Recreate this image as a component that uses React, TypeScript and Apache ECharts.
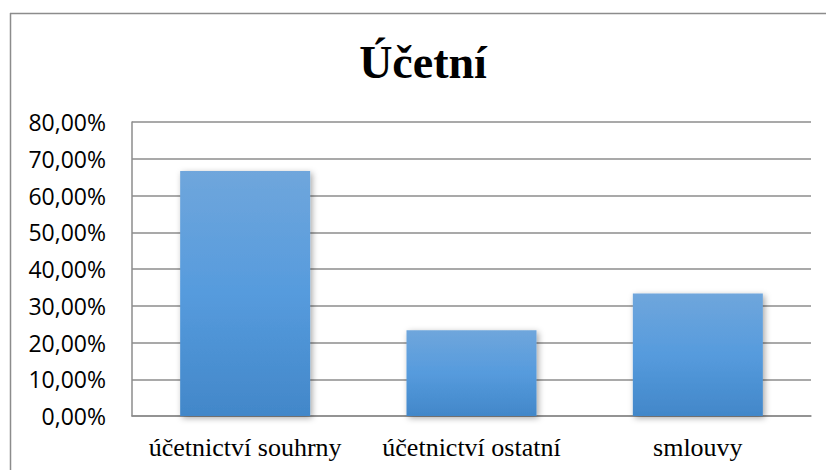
import React, { useEffect, useRef } from "react";
import * as echarts from "echarts";

const title = "Účetní";
const categories = ["účetnictví souhrny", "účetnictví ostatní", "smlouvy"];
const values = [66.67, 23.3, 33.33];
const yMin = 0;
const yMax = 80;
const yInterval = 10;

export default function App() {
  const ref = useRef<HTMLDivElement>(null);
  useEffect(() => {
    if (!ref.current) return;
    const chart = echarts.init(ref.current, undefined, { renderer: "svg" });
    const gray = "#8c8c8c";
    chart.setOption({
      animation: false,
      backgroundColor: "#ffffff",
      textStyle: { fontFamily: "Liberation Serif" },
      title: {
        text: title,
        left: 418,
        top: 34,
        textAlign: "center",
        textStyle: {
          fontFamily: "Liberation Serif",
          fontWeight: "bold",
          fontSize: 46,
          color: "#000000",
        },
      },
      graphic: [
        { type: "line", shape: { x1: 10, y1: 13.5, x2: 826, y2: 13.5 }, style: { stroke: gray, lineWidth: 1.5 } },
        { type: "line", shape: { x1: 10.5, y1: 13, x2: 10.5, y2: 470 }, style: { stroke: gray, lineWidth: 1.5 } },
      ],
      grid: { left: 132, right: 15, top: 122, bottom: 54, containLabel: false },
      xAxis: {
        type: "category",
        data: categories,
        axisTick: { show: false },
        axisLine: { show: true, lineStyle: { color: gray, width: 1.5 } },
        axisLabel: {
          interval: 0,
          margin: 18,
          fontFamily: "Liberation Serif",
          fontSize: 26,
          fontWeight: "normal",
          color: "#000000",
        },
      },
      yAxis: {
        type: "value",
        min: yMin,
        max: yMax,
        interval: yInterval,
        axisLine: { show: true, lineStyle: { color: gray, width: 1.5 } },
        axisTick: { show: false },
        splitLine: { show: true, lineStyle: { color: gray, width: 1.5 } },
        axisLabel: {
          margin: 26,
          fontFamily: "Open Sans",
          fontSize: 23,
          color: "#000000",
          formatter: (v: number) => v.toFixed(2).replace(".", ",") + "%",
        },
      },
      series: [
        {
          type: "bar",
          data: values,
          barWidth: 130,
          itemStyle: {
            color: new echarts.graphic.LinearGradient(0, 0, 0, 1, [
              { offset: 0, color: "#6fa6dc" },
              { offset: 0.5, color: "#569bdd" },
              { offset: 1, color: "#4287c9" },
            ]),
            shadowBlur: 6,
            shadowOffsetX: 2,
            shadowOffsetY: 2,
            shadowColor: "rgba(0,0,0,0.35)",
          },
        },
      ],
    });
    return () => chart.dispose();
  }, []);
  return (
    <div
      ref={ref}
      style={{ position: "fixed", left: 0, top: 0, width: 826, height: 470 }}
    />
  );
}
